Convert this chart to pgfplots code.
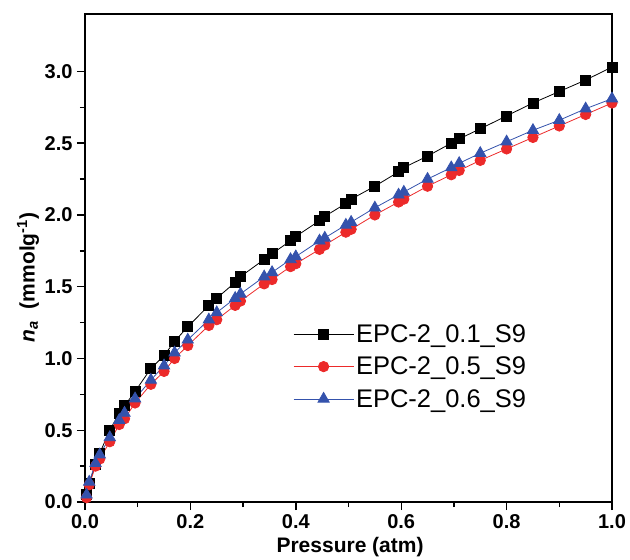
\documentclass[border=0pt]{standalone}
\usepackage{fontspec}
\setmainfont{Liberation Sans}
\usepackage{pgfplots}
\pgfplotsset{compat=1.18}
\usetikzlibrary{calc}
\definecolor{sred}{RGB}{236,42,42}
\definecolor{sblue}{RGB}{52,82,172}

% pressure (atm), n_a (mmol/g)
\pgfplotstableread{
x y
0.003 0.05
0.008 0.13
0.020 0.26
0.028 0.34
0.047 0.50
0.065 0.62
0.075 0.67
0.095 0.77
0.125 0.93
0.150 1.02
0.170 1.12
0.195 1.22
0.235 1.37
0.250 1.42
0.285 1.53
0.295 1.57
0.340 1.69
0.355 1.73
0.390 1.82
0.400 1.85
0.445 1.96
0.455 1.99
0.495 2.08
0.505 2.11
0.550 2.20
0.595 2.30
0.605 2.33
0.650 2.41
0.695 2.50
0.710 2.53
0.750 2.60
0.800 2.69
0.850 2.78
0.900 2.86
0.950 2.94
1.000 3.03
}\epcA

\pgfplotstableread{
x y
0.003 0.03
0.008 0.12
0.020 0.25
0.028 0.30
0.047 0.42
0.065 0.54
0.075 0.58
0.095 0.69
0.125 0.82
0.150 0.91
0.170 1.00
0.195 1.09
0.235 1.23
0.250 1.27
0.285 1.37
0.295 1.40
0.340 1.52
0.355 1.55
0.390 1.64
0.400 1.66
0.445 1.76
0.455 1.79
0.495 1.88
0.505 1.90
0.550 2.00
0.595 2.09
0.605 2.11
0.650 2.20
0.695 2.28
0.710 2.31
0.750 2.38
0.800 2.46
0.850 2.54
0.900 2.62
0.950 2.70
1.000 2.78
}\epcB

\pgfplotstableread{
x y
0.003 0.05
0.008 0.14
0.020 0.27
0.028 0.33
0.047 0.45
0.065 0.57
0.075 0.62
0.095 0.72
0.125 0.85
0.150 0.95
0.170 1.04
0.195 1.13
0.235 1.27
0.250 1.32
0.285 1.42
0.295 1.45
0.340 1.57
0.355 1.60
0.390 1.69
0.400 1.71
0.445 1.82
0.455 1.84
0.495 1.93
0.505 1.95
0.550 2.05
0.595 2.14
0.605 2.16
0.650 2.25
0.695 2.33
0.710 2.36
0.750 2.43
0.800 2.51
0.850 2.59
0.900 2.66
0.950 2.74
1.000 2.81
}\epcC

\begin{document}
\begin{tikzpicture}
  \begin{axis}[
    name=ax,
    scale only axis,
    width=527pt, height=488pt,
    xmin=0, xmax=1.0,
    ymin=0, ymax=3.4,
    xtick={0,0.2,...,1.0},
    ytick={0,0.5,...,3.0},
    minor x tick num=1,
    minor y tick num=1,
    tick align=outside,
    xtick pos=bottom, ytick pos=left,
    major tick length=8pt,
    minor tick length=5pt,
    every tick/.style={black, line width=1.4pt},
    axis line style={line width=1.8pt},
    /pgf/number format/assume math mode=true,
    /pgf/number format/.cd, fixed, precision=1, zerofill, /pgfplots/.cd,
    tick label style={font=\bfseries\fontsize{20}{24}\selectfont},
    xticklabel style={yshift=-1pt},
    yticklabel style={xshift=-1pt},
    label style={font=\bfseries\fontsize{21}{25}\selectfont},
    xlabel={Pressure (atm)},
    xlabel style={at={(axis description cs:0.503,0)}, anchor=base, yshift=-51pt},
    ylabel={{\itshape n}\textsubscript{\itshape a}\ \ (mmolg\textsuperscript{-1})},
    ylabel style={at={(axis description cs:-0.108,0.46)}, anchor=center},
    legend style={at={(axis description cs:0.389,0.372)}, anchor=north west,
      draw=none, fill=none, font=\fontsize{25.5}{28}\selectfont,
      row sep=9pt,
      /tikz/every even column/.append style={column sep=2pt}},
    legend cell align=left,
    legend image code/.code={%
      \draw[mark repeat=2, mark phase=2, #1]
        plot coordinates {(0pt,0pt) (30pt,0pt) (60pt,0pt)};},
  ]
    \addplot[black, line width=0.8pt, mark=square*, mark size=5pt,
      mark options={solid, fill=black}] table {\epcA};
    \addlegendentry{EPC-2\_0.1\_S9}
    \addplot[sred, line width=0.8pt, mark=*, mark size=5.2pt,
      mark options={solid, fill=sred, draw=sred}] table {\epcB};
    \addlegendentry{EPC-2\_0.5\_S9}
    \addplot[sblue, line width=0.8pt, mark=triangle*, mark size=6.5pt,
      mark options={solid, fill=sblue, draw=sblue}] table {\epcC};
    \addlegendentry{EPC-2\_0.6\_S9}
  \end{axis}
  \pgfresetboundingbox
  \path[use as bounding box] ($(ax.south west)+(-85pt,-58pt)$) rectangle ($(ax.north east)+(18pt,14pt)$);
\end{tikzpicture}
\end{document}
